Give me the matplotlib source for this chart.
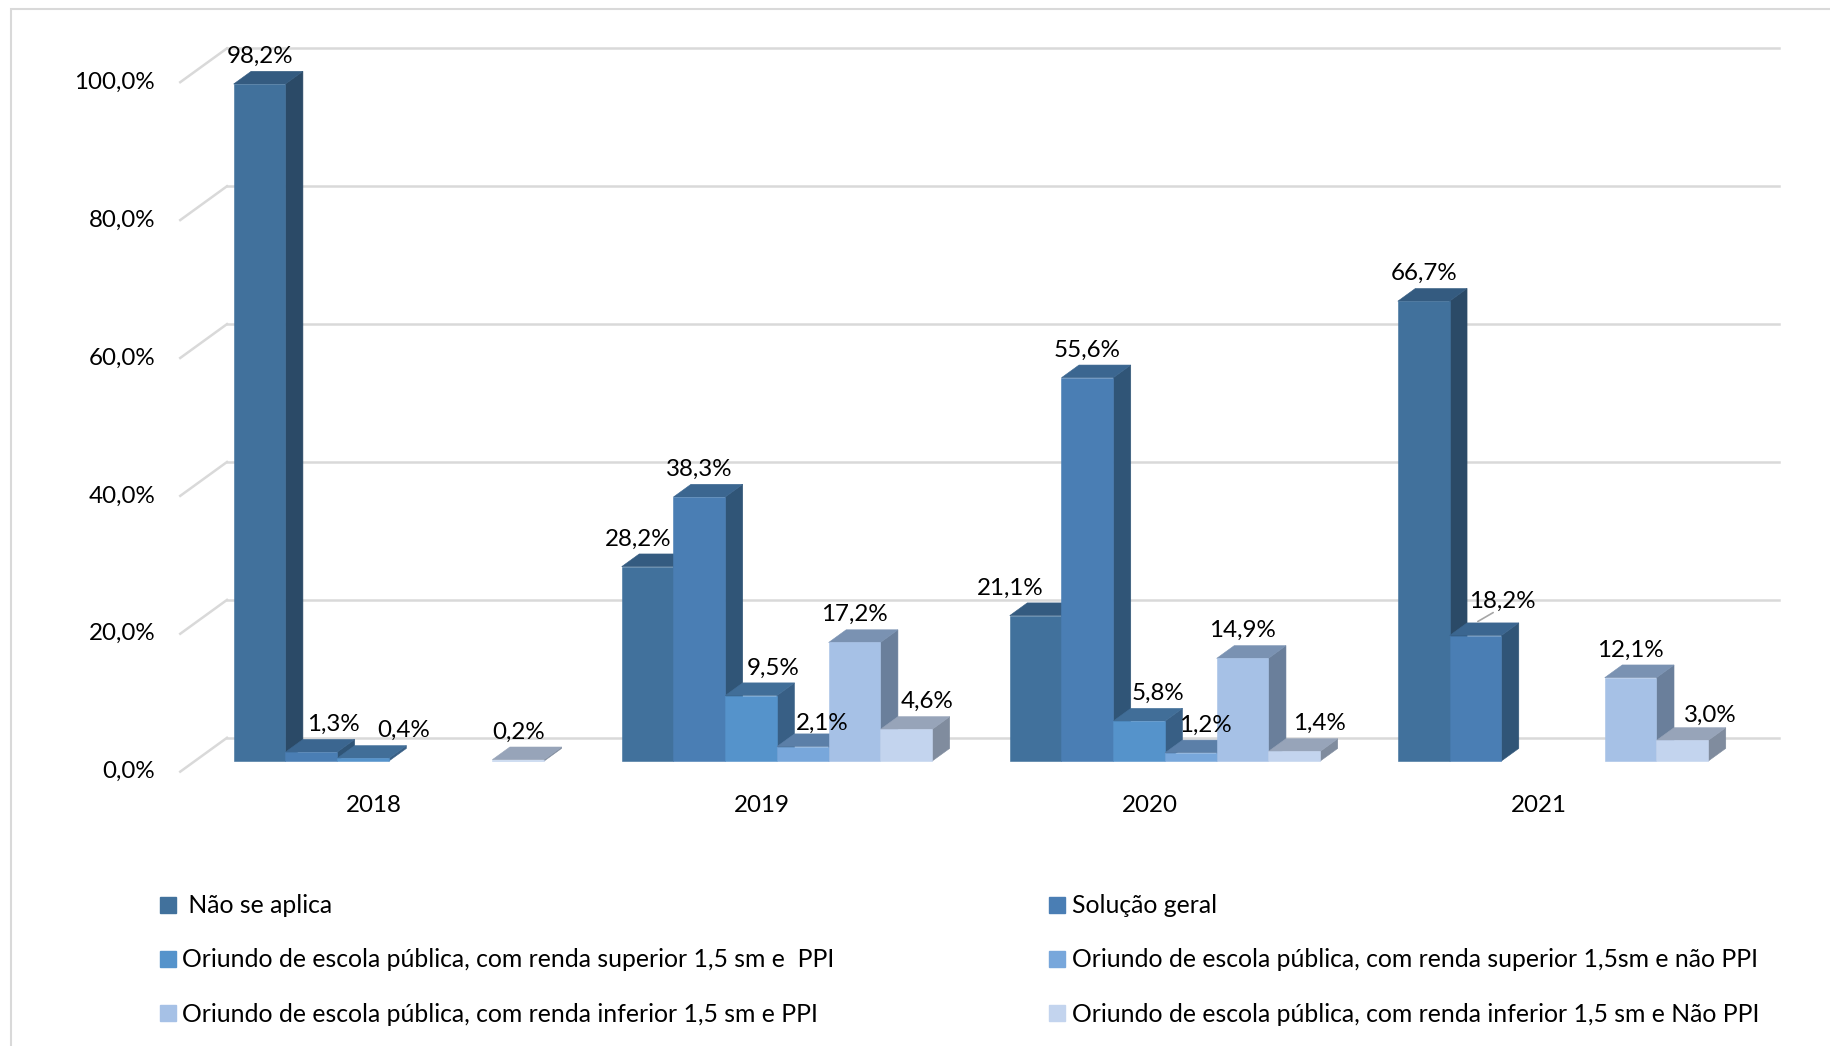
import matplotlib
matplotlib.use("Agg")
import matplotlib.pyplot as plt
from matplotlib.patches import Polygon, Rectangle
from matplotlib.lines import Line2D

plt.rcParams['font.family'] = ['Lato', 'DejaVu Sans']

years = ['2018', '2019', '2020', '2021']
series = [' Não se aplica',
          'Solução geral',
          'Oriundo de escola pública, com renda superior 1,5 sm e  PPI',
          'Oriundo de escola pública, com renda superior 1,5sm e não PPI',
          'Oriundo de escola pública, com renda inferior 1,5 sm e PPI',
          'Oriundo de escola pública, com renda inferior 1,5 sm e Não PPI']
# None = no bar for that year
nao_se_aplica = [98.2, 28.2, 21.1, 66.7]
solucao_geral = [1.3, 38.3, 55.6, 18.2]
sup_ppi = [0.4, 9.5, 5.8, None]
sup_nao_ppi = [None, 2.1, 1.2, None]
inf_ppi = [None, 17.2, 14.9, 12.1]
inf_nao_ppi = [0.2, 4.6, 1.4, 3.0]
values = [nao_se_aplica, solucao_geral, sup_ppi, sup_nao_ppi, inf_ppi, inf_nao_ppi]
yticks = [0, 20, 40, 60, 80, 100]

# front / top / side colours per series
front = ['#41719c', '#4a7eb4', '#5593cb', '#78a7db', '#a6c1e6', '#c3d4ee']
top = ['#345b80', '#3b6690', '#416e98', '#5b7fa8', '#7a92b2', '#97a4b9']
side = ['#2b4a67', '#305577', '#385f85', '#4d6f94', '#6a7f9b', '#808c9e']

FS = 17.4

# pseudo 3d geometry (depth direction, in data units)
DX = 0.1204
DY = 4.91
D0, D1 = 0.3125, 0.6875
W = 0.8 / 6

# label nudges in pixels of the original picture (dx, dy)
nudge = {(1, 0): (22, 0), (2, 0): (41, 0), (0, 1): (-9, 0), (2, 1): (22, 0),
         (3, 1): (19, -4), (5, 1): (21, 0), (0, 2): (-25, 0), (2, 2): (19, 0),
         (3, 2): (15, 0), (5, 2): (25, 0), (1, 3): (27, 7), (5, 3): (28, -3)}


def proj(x, y, d):
    return x + d * DX, y + d * DY


def fmt(v):
    return ('%.1f' % v).replace('.', ',') + '%'


fig = plt.figure(figsize=(18.31, 10.46), dpi=100)
ax = fig.add_axes([0, 0, 1, 1])
ax.set_xlim(-0.9645, 3.754)
ax.set_ylim(-39.79, 111.92)
ax.axis('off')

# outer frame
fig.patches.append(Rectangle((11 / 1831, -0.01), 1.0, 1 - 9 / 1046 + 0.01,
                             transform=fig.transFigure, fill=False,
                             edgecolor='#d9d9d9', linewidth=1.5))

# back wall gridlines and left wall ticks
for t in yticks:
    x0, y0 = proj(-0.5, t, 1)
    x1, y1 = proj(3.5, t, 1)
    ax.plot([x0, x1], [y0, y1], color='#d9d9d9', lw=1.8, zorder=1)
    ax.plot([-0.5, x0], [t, y0], color='#d9d9d9', lw=1.8, zorder=1)
    ax.text(-0.565, t, fmt(t), ha='right', va='center', fontsize=FS)

for i, yr in enumerate(years):
    ax.text(i, -4.9, yr, ha='center', va='center', fontsize=FS)

# bars, left to right
for i in range(len(years)):
    for j in range(len(series)):
        v = values[j][i]
        if v is None:
            continue
        xl = i - 0.4 + j * W
        xr = xl + W
        sp = [proj(xr, 0, D0), proj(xr, 0, D1), proj(xr, v, D1), proj(xr, v, D0)]
        tp = [proj(xl, v, D0), proj(xr, v, D0), proj(xr, v, D1), proj(xl, v, D1)]
        fp = [proj(xl, 0, D0), proj(xr, 0, D0), proj(xr, v, D0), proj(xl, v, D0)]
        for pts, c in ((sp, side[j]), (tp, top[j]), (fp, front[j])):
            ax.add_patch(Polygon(pts, closed=True, facecolor=c, edgecolor=c,
                                 lw=0.4, zorder=2))
        cx, _ = proj((xl + xr) / 2, 0, D0)
        _, ty = proj(0, v, D1)
        ndx, ndy = nudge.get((j, i), (0, 0))
        ax.annotate(fmt(v), xy=(cx, ty),
                    xytext=(ndx * 0.72, (15 + ndy) * 0.72), textcoords='offset points',
                    ha='center', va='center', fontsize=FS, zorder=5)
        if (j, i) == (1, 3):
            # leader line
            ax.annotate('', xy=(cx, ty), xytext=(cx + 0.052, ty + 1.7),
                        arrowprops=dict(arrowstyle='-', color='#a6a6a6', lw=1.2))

handles = [Line2D([], [], marker='s', linestyle='none', markersize=11,
                  markerfacecolor=front[j], markeredgecolor=front[j]) for j in range(6)]
order = [0, 2, 4, 1, 3, 5]
fig.legend([handles[k] for k in order], [series[k] for k in order],
           loc='upper left', bbox_to_anchor=(138 / 1831, 1 - 872 / 1046), ncol=2,
           frameon=False, fontsize=17.8, handlelength=0.6, handletextpad=0.3,
           labelspacing=1.26, columnspacing=8.7)

fig.savefig('out.png', dpi=100)
